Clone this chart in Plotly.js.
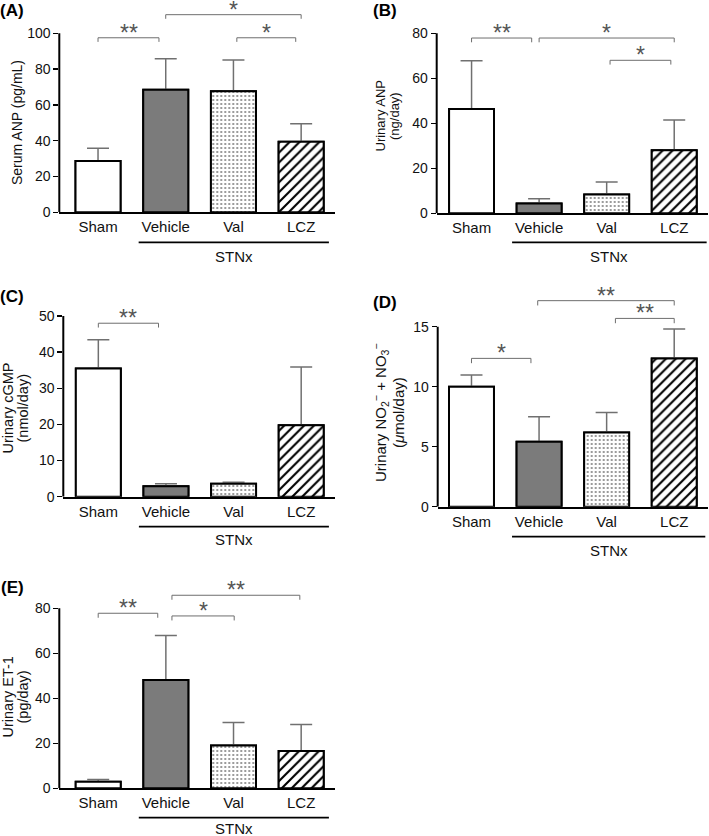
<!DOCTYPE html>
<html><head><meta charset="utf-8">
<script src="https://cdn.plot.ly/plotly-3.0.1.min.js"></script>
<style>html,body{margin:0;padding:0;background:#fff}#chart{width:709px;height:836px}</style>
</head><body><div id="chart"></div>
<script>
// ---------- data ----------
const categories = ['Sham', 'Vehicle', 'Val', 'LCZ'];

const serumANP = [28.7, 68.5, 67.6, 39.4];
const serumANPErr = [7.1, 17.3, 17.5, 10.1];
const urinaryANP = [46.4, 4.4, 8.4, 28.0];
const urinaryANPErr = [21.4, 2.1, 5.5, 13.5];
const urinaryCGMP = [35.5, 2.9, 3.6, 19.8];
const urinaryCGMPErr = [7.9, 0.7, 0.4, 16.1];
const urinaryNOx = [10.0, 5.42, 6.19, 12.36];
const urinaryNOxErr = [0.97, 2.08, 1.67, 2.44];
const urinaryET1 = [2.96, 48.1, 19.0, 16.6];
const urinaryET1Err = [0.9, 19.8, 10.2, 11.7];

// significance brackets: [from, to, level, label]
const sigA = [[0, 0.9, 97.5, '**'], [1, 3, 110.4, '*'], [2.05, 2.92, 97.5, '*']];
const sigB = [[0, 0.89, 77.9, '**'], [1, 3, 77.9, '*'], [2.05, 2.95, 68, '*']];
const sigC = [[0, 0.89, 48.0, '**']];
const sigD = [[0, 0.88, 12.36, '*'], [0.98, 3, 17.17, '**'], [2.13, 3, 15.69, '**']];
const sigE = [[0, 0.88, 77.8, '**'], [1.09, 2.98, 85.8, '**'], [1.09, 2.01, 76.6, '*']];

const ticksA = [0, 20, 40, 60, 80, 100];
const ticksB = [0, 20, 40, 60, 80];
const ticksC = [0, 10, 20, 30, 40, 50];
const ticksD = [0, 5, 10, 15];
const ticksE = [0, 20, 40, 60, 80];

const titleA = ['Serum ANP (pg/mL)'];
const titleB = ['Urinary ANP', '(ng/day)'];
const titleC = ['Urinary cGMP', '(nmol/day)'];
const titleD = ['Urinary NO<sub>2</sub><sup>−</sup> + NO<sub>3</sub><sup>−</sup>', '(<i>μ</i>mol/day)'];
const titleE = ['Urinary ET-1', '(pg/day)'];

const groupLabel = 'STNx';
const groupStart = 0.6;

// ---------- styling / geometry ----------
const W = 709, H = 836;
const FONT = '"Liberation Sans", Arial, sans-serif';
const barStyles = [
  {color: '#ffffff', pattern: {shape: ''}},
  {color: '#7b7b7b', pattern: {shape: ''}},
  {color: '#ffffff', pattern: {shape: '.', fgcolor: '#7a7a7a', bgcolor: '#ffffff', size: 4, solidity: 0.2, fillmode: 'replace'}},
  {color: '#ffffff', pattern: {shape: '/', fgcolor: '#000000', bgcolor: '#ffffff', size: 7, solidity: 0.3, fillmode: 'replace'}}
];

const panels = [
  {vals: serumANP, errs: serumANPErr, sig: sigA, ticks: ticksA, title: titleA, titleXs: [17], titleY: 123, titleSize: 14,
   xl: 59.3, xr: 335, xmin: -0.572, y0: 212.3, yTop: 33.3, top: 6, drop: 2.3, stnxY: 242.3, stnxTextY: 256.5, stnxEnd: 3.41,
   label: '(A)', labelX: 12, labelY: 10},
  {vals: urinaryANP, errs: urinaryANPErr, sig: sigB, ticks: ticksB, title: titleB, titleXs: [380.5, 395], titleY: 116, titleSize: 13,
   xl: 436.7, xr: 708, xmin: -0.516, y0: 213.3, yTop: 33.3, top: 20, drop: 1.9, stnxY: 242.3, stnxTextY: 256.5, stnxEnd: 3.48,
   label: '(B)', labelX: 385, labelY: 10},
  {vals: urinaryCGMP, errs: urinaryCGMPErr, sig: sigC, ticks: ticksC, title: titleC, titleXs: [7.5, 22.5], titleY: 408, titleSize: 14.5,
   xl: 63.3, xr: 335, xmin: -0.518, y0: 496.7, yTop: 316, top: 300, drop: 1.2, stnxY: 526.7, stnxTextY: 539, stnxEnd: 3.41,
   label: '(C)', labelX: 12, labelY: 296},
  {vals: urinaryNOx, errs: urinaryNOxErr, sig: sigD, ticks: ticksD, title: titleD, titleXs: [380, 398], titleY: 413, titleSize: 15,
   xl: 437.7, xr: 708, xmin: -0.5, y0: 506.7, yTop: 326.7, top: 290, drop: 0.4, stnxY: 536.7, stnxTextY: 550, stnxEnd: 3.46,
   label: '(D)', labelX: 384.5, labelY: 302.5},
  {vals: urinaryET1, errs: urinaryET1Err, sig: sigE, ticks: ticksE, title: titleE, titleXs: [7.5, 22.5], titleY: 697, titleSize: 14.5,
   xl: 59.3, xr: 335, xmin: -0.575, y0: 788.3, yTop: 608.3, top: 585, drop: 2, stnxY: 817.7, stnxTextY: 828.5, stnxEnd: 3.41,
   label: '(E)', labelX: 12, labelY: 587.5}
];

const xIdx = categories.map((c, i) => i);
const traces = [];
const layout = {
  width: W, height: H,
  margin: {l: 0, r: 0, t: 0, b: 0},
  paper_bgcolor: '#fff', plot_bgcolor: 'rgba(0,0,0,0)',
  showlegend: false, barmode: 'overlay',
  font: {family: FONT, color: '#111'},
  shapes: [], annotations: []
};

panels.forEach((p, i) => {
  const n = i === 0 ? '' : String(i + 1);
  const xa = 'x' + n, ya = 'y' + n;
  const ymax = p.ticks[p.ticks.length - 1];
  const scale = (p.y0 - p.yTop) / ymax;
  const rangeTop = ymax + (p.yTop - p.top) / scale;

  // bars with error bars, then the same bars again on top to hide the lower half of the error bars
  [true, false].forEach(withErr => {
    categories.forEach((cat, k) => {
      const t = {
        type: 'bar', name: cat, x: [xIdx[k]], y: [p.vals[k]], width: 0.665, xaxis: xa, yaxis: ya,
        marker: {color: barStyles[k].color, line: {color: '#000', width: 2}, pattern: barStyles[k].pattern},
        hoverinfo: 'skip'
      };
      if (withErr) {
        t.error_y = {type: 'data', array: [p.errs[k]], arrayminus: [0], symmetric: false,
                     color: '#707070', thickness: 1.5, width: 11};
      }
      traces.push(t);
    });
  });

  layout['xaxis' + n] = {
    domain: [p.xl / W, p.xr / W], range: [p.xmin, 3.5], anchor: ya,
    tickmode: 'array', tickvals: xIdx, ticktext: categories,
    showline: true, linewidth: 2, linecolor: '#000', ticks: '', showgrid: false, zeroline: false,
    tickfont: {size: 15, color: '#111', family: FONT}, fixedrange: true
  };
  layout['yaxis' + n] = {
    domain: [1 - p.y0 / H, 1 - p.top / H], range: [0, rangeTop], anchor: xa,
    tickmode: 'array', tickvals: p.ticks,
    showline: false, ticks: 'outside', ticklen: 5, tickwidth: 1.5, tickcolor: '#000',
    showgrid: false, zeroline: false,
    tickfont: {size: 14, color: '#111', family: FONT}, fixedrange: true
  };

  // y axis line up to the last tick
  layout.shapes.push({type: 'line', xref: xa + ' domain', yref: ya, x0: 0, x1: 0, y0: 0, y1: ymax,
                      line: {color: '#000', width: 2}});
  // significance brackets
  p.sig.forEach(s => {
    const [a, b, lvl, txt] = s;
    layout.shapes.push({type: 'path', xref: xa, yref: ya,
      path: `M${a},${lvl - p.drop} L${a},${lvl} L${b},${lvl} L${b},${lvl - p.drop}`,
      line: {color: '#6e6e6e', width: 1}});
    layout.annotations.push({xref: xa, yref: ya, x: (a + b) / 2, y: lvl, text: txt, showarrow: false,
      xanchor: 'center', yanchor: 'bottom', yshift: -10, font: {size: 23, color: '#555', family: FONT}});
  });
  // STNx group line + label
  layout.shapes.push({type: 'line', xref: xa, yref: 'paper', x0: groupStart, x1: p.stnxEnd,
    y0: 1 - p.stnxY / H, y1: 1 - p.stnxY / H, line: {color: '#000', width: 1.8}});
  layout.annotations.push({xref: xa, yref: 'paper', x: (groupStart + p.stnxEnd) / 2, y: 1 - p.stnxTextY / H,
    text: groupLabel, showarrow: false, xanchor: 'center', yanchor: 'middle', font: {size: 15, color: '#111', family: FONT}});
  // y title lines
  p.title.forEach((line, j) => {
    layout.annotations.push({xref: 'paper', yref: 'paper', x: p.titleXs[j] / W, y: 1 - p.titleY / H, text: line,
      textangle: -90, showarrow: false, xanchor: 'center', yanchor: 'middle',
      font: {size: p.titleSize, color: '#111', family: FONT}});
  });
  // panel label
  layout.annotations.push({xref: 'paper', yref: 'paper', x: p.labelX / W, y: 1 - p.labelY / H, text: '<b>' + p.label + '</b>',
    showarrow: false, xanchor: 'center', yanchor: 'middle', font: {size: 17, color: '#000', family: FONT}});
});

Plotly.newPlot('chart', traces, layout, {displayModeBar: false, staticPlot: true});
</script>
</body></html>
